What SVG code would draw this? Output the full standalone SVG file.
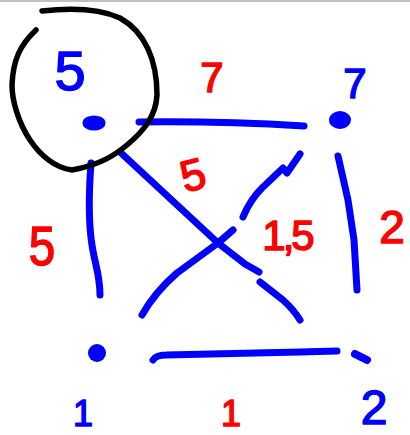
<svg xmlns="http://www.w3.org/2000/svg" width="410" height="435" viewBox="0 0 410 435">
<style>
.ink{fill:none;stroke-linecap:round;stroke-linejoin:round}
.b{stroke:#0000ff;stroke-width:7}
.k{stroke:#000;stroke-width:5.5}
.t{font-family:"Liberation Sans","DejaVu Sans",sans-serif;text-anchor:middle;stroke-linejoin:round;stroke-width:1.5}
.tb{fill:#0000ff;stroke:#0000ff}
.tr{fill:#ff0000;stroke:#ff0000}
</style>
<rect x="0" y="0" width="410" height="435" fill="#fff"/>
<rect x="0" y="0" width="410" height="2" fill="#c0c0c0"/>
<g id="connectors">
  <path class="ink b" d="M139,122 Q220,121 304,126"/>
  <path class="ink b" d="M91,163 C89,190 88,220 92,245 C95,265 100,275 100,295"/>
  <path class="ink b" d="M338,156 L348,200 L354,240 L357,290"/>
  <path class="ink b" d="M153,360 Q156,355 166,355 L300,352 L337,351"/>
  <path class="ink b" d="M120,152 L218,243 L245,264 L259,272"/>
  <path class="ink b" d="M260,282 L283,300 Q294,310 300,320"/>
  <path class="ink b" d="M300,154 L287,173 L283,168 L262,188 Q250,200 243,217"/>
  <path class="ink b" d="M233,230 L218,243 L177,273 Q155,292 142,315"/>
</g>
<g id="edge-labels">
  <text class="t tr" x="212" y="92" font-size="42">7</text>
  <text class="t tr" x="193" y="190" font-size="44" transform="rotate(-15 193 175)">5</text>
  <text class="t tr" x="287" y="250" font-size="42" letter-spacing="-3">1,5</text>
  <text class="t tr" x="392" y="243" font-size="46">2</text>
  <text class="t tr" x="42" y="265" font-size="56" transform="translate(42 0) scale(0.85 1) translate(-42 0)">5</text>
  <text class="t tr" x="231" y="426" font-size="36">1</text>
</g>
<g id="node-tl">
  <path class="ink k" d="M42,11 C70,8 100,9 120,18 C145,32 157,60 157,95 C156,115 145,130 127,145 C115,155 100,165 72,170 C55,168 40,155 30,140 C18,122 12,100 12,85 C13,60 20,45 36,30"/>
  <ellipse cx="94" cy="123" rx="8" ry="4" fill="#0000ff" stroke="#0000ff" stroke-width="7"/>
  <text class="t tb" x="70" y="90" font-size="56">5</text>
</g>
<g id="node-tr">
  <ellipse cx="340" cy="120" rx="11" ry="9" fill="#0000ff"/>
  <text class="t tb" x="355" y="98" font-size="42">7</text>
</g>
<g id="node-bl">
  <circle cx="97" cy="353" r="9" fill="#0000ff"/>
  <text class="t tb" x="83" y="426" font-size="36">1</text>
</g>
<g id="node-br">
  <path class="ink" stroke="#0000ff" stroke-width="8" d="M355,354 L367,360"/>
  <text class="t tb" x="374" y="424" font-size="48">2</text>
</g>
</svg>
